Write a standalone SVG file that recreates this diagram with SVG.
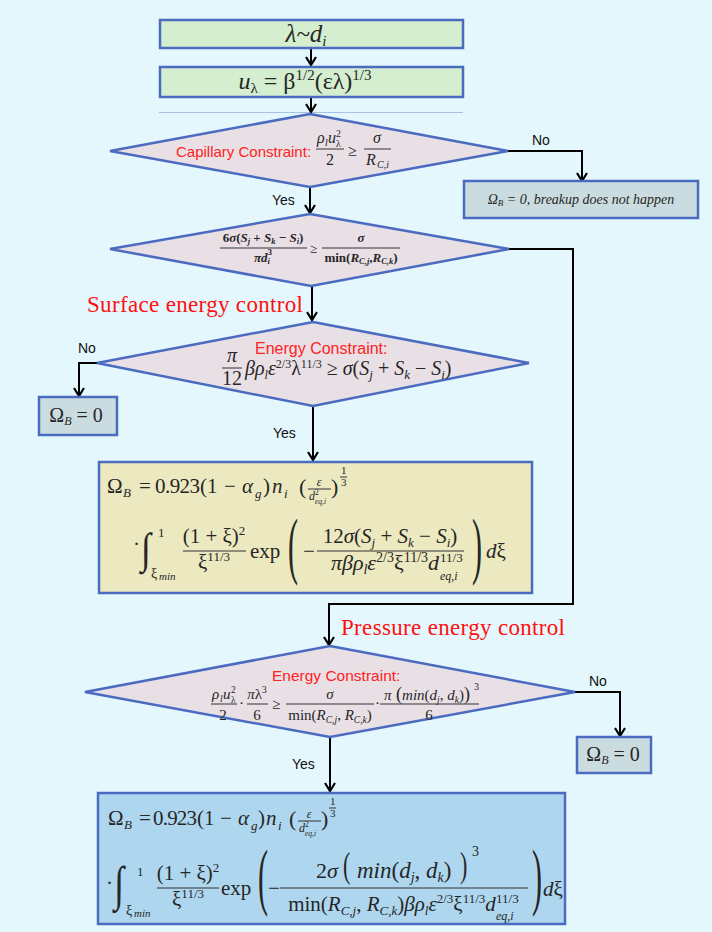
<svg xmlns="http://www.w3.org/2000/svg" width="712" height="932" viewBox="0 0 712 932">
<style>
.m{font-family:"Liberation Serif","DejaVu Serif",serif;fill:#262626}
.i{font-style:italic}
.b{font-weight:bold}
.lbl{font-family:"Liberation Sans","DejaVu Sans",sans-serif;font-size:14px;fill:#111}
.red{font-family:"Liberation Sans","DejaVu Sans",sans-serif;fill:#FF2222}
.ctl{font-family:"Liberation Serif","DejaVu Serif",serif;font-size:23px;fill:#FF1010}
.box{stroke:#4A6BC0;stroke-width:2.5}
.green{fill:#D4EECF}
.gray{fill:#CBDCE0}
.dia{fill:#E9E0E6;stroke:#4A6BC0;stroke-width:2.5}
.yel{fill:#ECE9C0}
.blu{fill:#AED7EF}
.fl{stroke:#333;stroke-width:1}
.con{fill:none;stroke:#000;stroke-width:2}
</style>
<defs>
<marker id="ah" markerUnits="userSpaceOnUse" markerWidth="12" markerHeight="12" viewBox="0 0 12 12" refX="10" refY="6" orient="auto">
<path d="M2,1 L10,6 L2,11" fill="none" stroke="#000" stroke-width="2.2"/>
</marker>
</defs>
<rect x="0" y="0" width="712" height="932" fill="#E4F7FD"/>
<line x1="159" y1="112.5" x2="463" y2="112.5" stroke="#A9C1E6" stroke-width="1"/>

<g id="connectors">
<path class="con" d="M311,48 V65" marker-end="url(#ah)"/>
<path class="con" d="M311,97 V112" marker-end="url(#ah)"/>
<path class="con" d="M508,151 H582 V181" marker-end="url(#ah)"/>
<path class="con" d="M310,186 V213" marker-end="url(#ah)"/>
<path class="con" d="M312,286 V320" marker-end="url(#ah)"/>
<path class="con" d="M97,363 H79 V396" marker-end="url(#ah)"/>
<path class="con" d="M313,406 V460" marker-end="url(#ah)"/>
<path class="con" d="M509,249 H573 V604 H329 V645" marker-end="url(#ah)"/>
<path class="con" d="M575,692 H620 V736" marker-end="url(#ah)"/>
<path class="con" d="M330,737 V791" marker-end="url(#ah)"/>
<text class="lbl" x="532" y="145">No</text>
<text class="lbl" x="272" y="205">Yes</text>
<text class="lbl" x="78" y="353">No</text>
<text class="lbl" x="273" y="438">Yes</text>
<text class="lbl" x="589" y="686">No</text>
<text class="lbl" x="292" y="769">Yes</text>
<text class="ctl" x="87" y="312" textLength="216" lengthAdjust="spacing">Surface energy control</text>
<text class="ctl" x="341" y="635" textLength="224" lengthAdjust="spacing">Pressure energy control</text>
</g>

<g id="n1">
<rect class="box green" x="160" y="20" width="303" height="28"/>
<text class="m i" x="306" y="42" text-anchor="middle" font-size="25">λ~d<tspan font-size="15" dy="4">i</tspan></text>
</g>

<g id="n2">
<rect class="box green" x="160" y="67" width="303" height="30"/>
<text class="m" x="305" y="89" text-anchor="middle" font-size="24"><tspan class="i">u</tspan><tspan font-size="15" dy="4">λ</tspan><tspan dy="-4"> = β</tspan><tspan font-size="15" dy="-9">1/2</tspan><tspan dy="9">(ελ)</tspan><tspan font-size="15" dy="-9">1/3</tspan></text>
</g>

<g id="d1">
<polygon class="dia" points="310,114 508,151 310,187 110,151"/>
<text class="red" x="176" y="157" font-size="15">Capillary Constraint:</text>
<g class="m" font-size="16">
<text class="i" x="317" y="143">ρ</text>
<text class="i" x="325" y="146" font-size="10">l</text>
<text class="i" x="328" y="143">u</text>
<text x="336" y="147" font-size="10">λ</text>
<text x="336" y="137" font-size="10">2</text>
<line class="fl" x1="316" y1="149" x2="344" y2="149"/>
<text x="330" y="165" text-anchor="middle">2</text>
<text x="348" y="156">≥</text>
<text class="i" x="377" y="143" text-anchor="middle">σ</text>
<line class="fl" x1="364" y1="149" x2="391" y2="149"/>
<text class="i" x="366" y="165">R</text>
<text class="i" x="377" y="168" font-size="10">C,i</text>
</g>
</g>

<g id="n3">
<rect class="box gray" x="464" y="181" width="234" height="37"/>
<text class="m i" x="581" y="204" text-anchor="middle" font-size="14">Ω<tspan font-size="9" dy="2">B</tspan><tspan dy="-2"> = 0, breakup does not happen</tspan></text>
</g>

<g id="d2">
<polygon class="dia" points="310,214 509,249 311,286 110,249"/>
<g class="m b" font-size="13">
<text x="263" y="242" text-anchor="middle">6<tspan class="i">σ</tspan>(<tspan class="i">S</tspan><tspan class="i" font-size="8.5" dy="2">j</tspan><tspan dy="-2"> + </tspan><tspan class="i">S</tspan><tspan class="i" font-size="8.5" dy="2">k</tspan><tspan dy="-2"> − </tspan><tspan class="i">S</tspan><tspan class="i" font-size="8.5" dy="2">i</tspan><tspan dy="-2">)</tspan></text>
<line class="fl" x1="220" y1="248" x2="307" y2="248"/>
<text x="263" y="262" text-anchor="middle"><tspan class="i">πd</tspan><tspan class="i" font-size="8.5" dy="2">i</tspan><tspan font-size="8.5" dx="-2" dy="-9">3</tspan></text>
<text x="310" y="253" font-weight="normal">≥</text>
<text class="i" x="361" y="242" text-anchor="middle">σ</text>
<line class="fl" x1="322" y1="248" x2="400" y2="248"/>
<text x="361" y="262" text-anchor="middle">min(<tspan class="i">R</tspan><tspan class="i" font-size="8.5" dy="2">C,j</tspan><tspan dy="-2">,</tspan><tspan class="i">R</tspan><tspan class="i" font-size="8.5" dy="2">C,k</tspan><tspan dy="-2">)</tspan></text>
</g>
</g>

<g id="d3">
<polygon class="dia" points="313,322 529,363 313,406 97,363"/>
<text class="red" x="255" y="354" font-size="16">Energy Constraint:</text>
<g class="m" font-size="20">
<text class="i" x="232" y="362" text-anchor="middle">π</text>
<line class="fl" x1="222" y1="368" x2="242" y2="368"/>
<text x="232" y="385" text-anchor="middle">12</text>
<text x="245" y="375"><tspan class="i">βρ</tspan><tspan class="i" font-size="12" dy="4">l</tspan><tspan class="i" dy="-4">ε</tspan><tspan font-size="12" dy="-7">2/3</tspan><tspan dy="7">λ</tspan><tspan font-size="12" dy="-7">11/3</tspan><tspan dy="7"> ≥ </tspan><tspan class="i">σ</tspan>(<tspan class="i">S</tspan><tspan class="i" font-size="13" dy="4">j</tspan><tspan dy="-4"> + </tspan><tspan class="i">S</tspan><tspan class="i" font-size="13" dy="4">k</tspan><tspan dy="-4"> − </tspan><tspan class="i">S</tspan><tspan class="i" font-size="13" dy="4">i</tspan><tspan dy="-4">)</tspan></text>
</g>
</g>

<g id="n4">
<rect class="box gray" x="39" y="397" width="78" height="38"/>
<text class="m" x="76" y="422" text-anchor="middle" font-size="20">Ω<tspan class="i" font-size="12" dy="3">B</tspan><tspan dy="-3"> = 0</tspan></text>
</g>

<g id="n5">
<rect class="box yel" x="99" y="462" width="433" height="131"/>
<g class="m" font-size="21">
<text x="107" y="493">Ω</text>
<text class="i" x="123" y="497" font-size="13">B</text>
<text x="139" y="493">=</text>
<text x="155" y="493" textLength="45">0.923</text>
<text x="200" y="493">(1</text>
<text x="224" y="493">−</text>
<text class="i" x="242" y="493">α</text>
<text class="i" x="255" y="498" font-size="13">g</text>
<text x="263" y="493">)</text>
<text class="i" x="272" y="493">n</text>
<text class="i" x="284" y="498" font-size="13">i</text>
<text x="299" y="494" font-size="22">(</text>
<text class="i" x="319" y="486" text-anchor="middle" font-size="12">ε</text>
<line class="fl" x1="308" y1="489" x2="331" y2="489"/>
<text class="i" x="309" y="500" font-size="12">d</text>
<text x="315" y="495" font-size="7.5">2</text>
<text class="i" x="315" y="504" font-size="7.5">eq,i</text>
<text x="331" y="494" font-size="22">)</text>
<text x="341" y="474" font-size="11">1</text>
<line class="fl" x1="340" y1="477" x2="347" y2="477"/>
<text x="341" y="486" font-size="11">3</text>
<text x="133" y="551">·</text>
<text transform="translate(141,563) scale(1,1.2)" x="0" y="0" font-size="36">∫</text>
<text x="158" y="537" font-size="13">1</text>
<text x="151" y="578" font-size="14">ξ</text>
<text class="i" x="159" y="580" font-size="11">min</text>
<text x="214" y="543" text-anchor="middle">(1 + ξ)<tspan font-size="13" dy="-8">2</tspan></text>
<line class="fl" x1="183" y1="551" x2="246" y2="551"/>
<text x="214" y="569" text-anchor="middle">ξ<tspan font-size="13" dy="-8">11/3</tspan></text>
<text x="250" y="558">exp</text>
<text transform="translate(288,570) scale(1,2.5)" x="0" y="0" font-size="30">(</text>
<text x="303" y="558">−</text>
<text x="390" y="543" text-anchor="middle">12<tspan class="i">σ</tspan>(<tspan class="i">S</tspan><tspan class="i" font-size="13" dy="4">j</tspan><tspan dy="-4"> + </tspan><tspan class="i">S</tspan><tspan class="i" font-size="13" dy="4">k</tspan><tspan dy="-4"> − </tspan><tspan class="i">S</tspan><tspan class="i" font-size="13" dy="4">i</tspan><tspan dy="-4">)</tspan></text>
<line class="fl" x1="317" y1="551" x2="464" y2="551"/>
<text x="385" y="570" text-anchor="middle" font-size="22"><tspan class="i">πβρ</tspan><tspan class="i" font-size="14" dy="4">l</tspan><tspan class="i" dy="-4">ε</tspan><tspan font-size="14" dy="-8">2/3</tspan><tspan dy="8">ξ</tspan><tspan font-size="14" dy="-8">11/3</tspan><tspan class="i" dy="8">d</tspan></text>
<text x="440" y="562" font-size="13">11/3</text>
<text class="i" x="440" y="580" font-size="12">eq,i</text>
<text transform="translate(472,570) scale(1,2.5)" x="0" y="0" font-size="30">)</text>
<text x="486" y="558"><tspan class="i">d</tspan>ξ</text>
</g>
</g>

<g id="d4">
<polygon class="dia" points="330,646 575,692 330,737 85,692"/>
<text class="red" x="272" y="681" font-size="15.5">Energy Constraint:</text>
<g class="m" font-size="15">
<text class="i" x="212" y="699">ρ</text>
<text class="i" x="220" y="702" font-size="9.5">l</text>
<text class="i" x="223" y="699">u</text>
<text x="231" y="703" font-size="9.5">λ</text>
<text x="231" y="693" font-size="9.5">2</text>
<line class="fl" x1="211" y1="704" x2="237" y2="704"/>
<text x="223" y="720" text-anchor="middle">2</text>
<text x="239" y="708">·</text>
<text x="257" y="699" text-anchor="middle"><tspan class="i">π</tspan>λ<tspan font-size="9.5" dy="-6">3</tspan></text>
<line class="fl" x1="247" y1="704" x2="268" y2="704"/>
<text x="257" y="720" text-anchor="middle">6</text>
<text x="272" y="709">≥</text>
<text class="i" x="330" y="699" text-anchor="middle">σ</text>
<line class="fl" x1="286" y1="704" x2="374" y2="704"/>
<text x="330" y="720" text-anchor="middle">min(<tspan class="i">R</tspan><tspan class="i" font-size="9.5" dy="3">C,j</tspan><tspan dy="-3">, </tspan><tspan class="i">R</tspan><tspan class="i" font-size="9.5" dy="3">C,k</tspan><tspan dy="-3">)</tspan></text>
<text x="375" y="708">·</text>
<text x="427" y="700" text-anchor="middle"><tspan class="i">π</tspan><tspan font-size="18"> (</tspan><tspan class="i">min</tspan>(<tspan class="i">d</tspan><tspan class="i" font-size="9.5" dy="3">j</tspan><tspan dy="-3">, </tspan><tspan class="i">d</tspan><tspan class="i" font-size="9.5" dy="3">k</tspan><tspan dy="-3">)</tspan><tspan font-size="18">)</tspan></text>
<text x="474" y="690" font-size="10">3</text>
<line class="fl" x1="380" y1="704" x2="479" y2="704"/>
<text x="429" y="720" text-anchor="middle">6</text>
</g>
</g>

<g id="n6">
<rect class="box gray" x="577" y="737" width="74" height="36"/>
<text class="m" x="613" y="761" text-anchor="middle" font-size="20">Ω<tspan class="i" font-size="12" dy="3">B</tspan><tspan dy="-3"> = 0</tspan></text>
</g>

<g id="n7">
<rect class="box blu" x="98" y="793" width="467" height="131"/>
<g class="m" font-size="21">
<text x="108" y="825">Ω</text>
<text class="i" x="124" y="829" font-size="13">B</text>
<text x="139" y="825">=</text>
<text x="153" y="825" textLength="44">0.923</text>
<text x="197" y="825">(1</text>
<text x="220" y="825">−</text>
<text class="i" x="238" y="825">α</text>
<text class="i" x="251" y="830" font-size="13">g</text>
<text x="258" y="825">)</text>
<text class="i" x="266" y="825">n</text>
<text class="i" x="278" y="830" font-size="13">i</text>
<text x="289" y="826" font-size="22">(</text>
<text class="i" x="309" y="818" text-anchor="middle" font-size="12">ε</text>
<line class="fl" x1="298" y1="821" x2="321" y2="821"/>
<text class="i" x="299" y="832" font-size="12">d</text>
<text x="305" y="827" font-size="7.5">2</text>
<text class="i" x="305" y="836" font-size="7.5">eq,i</text>
<text x="321" y="826" font-size="22">)</text>
<text x="330" y="805" font-size="11">1</text>
<line class="fl" x1="329" y1="808" x2="336" y2="808"/>
<text x="330" y="817" font-size="11">3</text>
<text x="106" y="890">·</text>
<text transform="translate(114,900) scale(1,1.35)" x="0" y="0" font-size="36">∫</text>
<text x="137" y="876" font-size="13">1</text>
<text x="126" y="915" font-size="14">ξ</text>
<text class="i" x="134" y="917" font-size="11">min</text>
<text x="188" y="880" text-anchor="middle">(1 + ξ)<tspan font-size="13" dy="-8">2</tspan></text>
<line class="fl" x1="157" y1="888" x2="219" y2="888"/>
<text x="188" y="906" text-anchor="middle">ξ<tspan font-size="13" dy="-8">11/3</tspan></text>
<text x="221" y="895">exp</text>
<text transform="translate(258,901) scale(1,2.5)" x="0" y="0" font-size="30">(</text>
<text x="268" y="895">−</text>
<text x="316" y="878" font-size="22">2<tspan class="i">σ</tspan></text>
<text transform="translate(343,877) scale(1,1.6)" x="0" y="0" font-size="22">(</text>
<text x="357" y="878" font-size="23"><tspan class="i">min</tspan>(<tspan class="i">d</tspan><tspan class="i" font-size="14" dy="4">j</tspan><tspan dy="-4">, </tspan><tspan class="i">d</tspan><tspan class="i" font-size="14" dy="4">k</tspan><tspan dy="-4">)</tspan></text>
<text transform="translate(460,877) scale(1,1.6)" x="0" y="0" font-size="22">)</text>
<text x="472" y="856" font-size="14">3</text>
<line class="fl" x1="280" y1="888" x2="528" y2="888"/>
<text x="392" y="911" text-anchor="middle">min(<tspan class="i">R</tspan><tspan class="i" font-size="13" dy="4">C,j</tspan><tspan dy="-4">, </tspan><tspan class="i">R</tspan><tspan class="i" font-size="13" dy="4">C,k</tspan><tspan dy="-4">)</tspan><tspan class="i">βρ</tspan><tspan class="i" font-size="13" dy="4">l</tspan><tspan class="i" dy="-4">ε</tspan><tspan font-size="13" dy="-8">2/3</tspan><tspan dy="8">ξ</tspan><tspan font-size="13" dy="-8">11/3</tspan><tspan class="i" dy="8">d</tspan></text>
<text x="496" y="903" font-size="13">11/3</text>
<text class="i" x="496" y="920" font-size="12">eq,i</text>
<text transform="translate(532,901) scale(1,2.5)" x="0" y="0" font-size="30">)</text>
<text x="543" y="896"><tspan class="i">d</tspan>ξ</text>
</g>
</g>
</svg>
